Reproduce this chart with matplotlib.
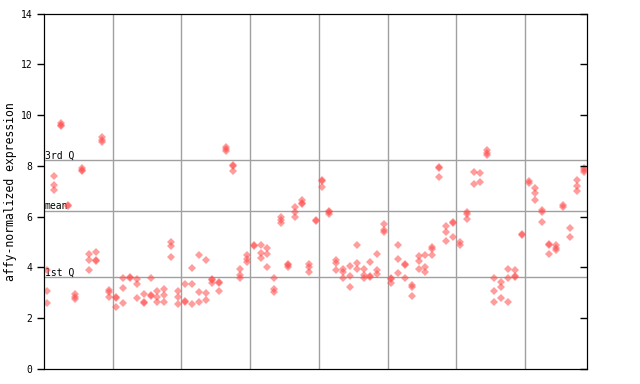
import numpy as np
import matplotlib
matplotlib.use('Agg')
import matplotlib.pyplot as plt
from matplotlib.transforms import blended_transform_factory

# Replicate values for each sample, in blocks of 10 samples (one block per grid cell)
block1 = [[3.90, 3.07, 2.61], [7.60, 7.25, 7.04], [9.67, 9.62, 9.55], [6.45, 6.40],
          [2.95, 2.85, 2.75], [7.92, 7.84, 7.78], [4.52, 4.29, 3.90], [4.61, 4.30, 4.25],
          [9.12, 9.03, 8.92], [3.10, 3.05, 2.82]]
block2 = [[2.85, 2.78, 2.43], [3.57, 3.18, 2.59], [3.62, 3.58], [3.53, 3.34, 2.78],
          [2.95, 2.63, 2.59], [3.57, 2.91, 2.87], [3.06, 2.82, 2.63], [3.14, 2.90, 2.64],
          [5.00, 4.84, 4.41], [3.09, 2.82, 2.55]]
block3 = [[3.34, 2.67, 2.63], [3.97, 3.36, 2.56], [4.48, 3.02, 2.64], [4.28, 2.98, 2.70],
          [3.55, 3.50, 3.40], [3.42, 3.38, 3.09], [8.73, 8.65, 8.57], [8.03, 7.98, 7.79],
          [3.93, 3.69, 3.60], [4.47, 4.35, 4.20]]
block4 = [[4.88, 4.84], [4.87, 4.56, 4.36], [4.76, 4.53, 4.00], [3.57, 3.16, 3.05],
          [6.00, 5.86, 5.76], [4.15, 4.08, 4.02], [6.37, 6.17, 6.00], [6.66, 6.55, 6.48],
          [4.14, 4.03, 3.83], [5.88, 5.84]]
block5 = [[7.44, 7.40, 7.18], [6.22, 6.18, 6.09], [4.29, 4.19, 3.89], [3.93, 3.83, 3.57],
          [4.06, 3.66, 3.24], [4.87, 4.16, 3.93], [3.93, 3.70, 3.60], [4.20, 3.66, 3.62],
          [4.52, 3.90, 3.73], [5.70, 5.48, 5.38]]
block6 = [[3.57, 3.53, 3.40], [4.87, 4.32, 3.77], [4.13, 4.09, 3.57], [3.32, 3.22, 2.88],
          [4.46, 4.27, 3.93], [4.48, 4.03, 3.83], [4.82, 4.71, 4.48], [7.94, 7.90, 7.55],
          [5.63, 5.38, 5.03], [5.78, 5.74, 5.19]]
block7 = [[5.00, 4.90], [6.20, 6.11, 5.89], [7.75, 7.27], [7.71, 7.35],
          [8.61, 8.52, 8.43], [3.57, 3.09, 2.63], [3.43, 3.24, 2.78], [3.93, 3.57, 2.63],
          [3.89, 3.66, 3.62], [5.30, 5.26]]
block8 = [[7.42, 7.31], [7.12, 6.92, 6.66], [6.26, 6.17, 5.78], [4.93, 4.88, 4.52],
          [4.89, 4.78, 4.70], [6.46, 6.37], [5.54, 5.19], [7.44, 7.21, 7.01],
          [7.90, 7.84, 7.76]]

q1_value = 3.61
mean_value = 6.22
q3_value = 8.22
yticks = [0, 2, 4, 6, 8, 10, 12, 14]

samples = block1 + block2 + block3 + block4 + block5 + block6 + block7 + block8
n = len(samples)

xs, ys = [], []
for i, reps in enumerate(samples):
    for v in reps:
        xs.append(i + 0.5)
        ys.append(v)

mono = 'DejaVu Sans Mono'
fig = plt.figure(figsize=(6.4, 3.84), dpi=100)
ax = fig.add_axes([44 / 640, 15 / 384, 543 / 640, 355.5 / 384])

# reference lines
for x in range(10, n, 10):
    ax.axvline(x, color='#a0a0a0', linewidth=1, zorder=1)
trans = blended_transform_factory(ax.transAxes, ax.transData)
for val, lab in [(q3_value, '3rd Q'), (mean_value, 'mean'), (q1_value, '1st Q')]:
    ax.axhline(val, color='#a0a0a0', linewidth=1, zorder=1)
    ax.text(0.001, val, lab, transform=trans, ha='left', va='bottom',
            fontsize=7, family=mono, zorder=2)

ax.plot(xs, ys, linestyle='none', marker='D', markersize=4,
        markerfacecolor='#ff4d4d', markeredgewidth=0, alpha=0.55, zorder=3)

ax.set_xlim(0, n)
ax.set_ylim(0, 14)
ax.set_xticks([])
ax.set_yticks(yticks)
ax.set_yticklabels([str(t) for t in yticks], family=mono, fontsize=7)
ax.tick_params(axis='y', left=True, right=False, direction='out', length=5, width=1)
# inward ticks on the right edge
ax2 = ax.twinx()
ax2.set_ylim(0, 14)
ax2.set_yticks(yticks)
ax2.set_yticklabels([])
ax2.tick_params(axis='y', direction='in', length=5, width=1)
ax.set_ylabel('affy-normalized expression', family=mono, fontsize=8.3, labelpad=2.5)

fig.savefig('out.png', dpi=100)
